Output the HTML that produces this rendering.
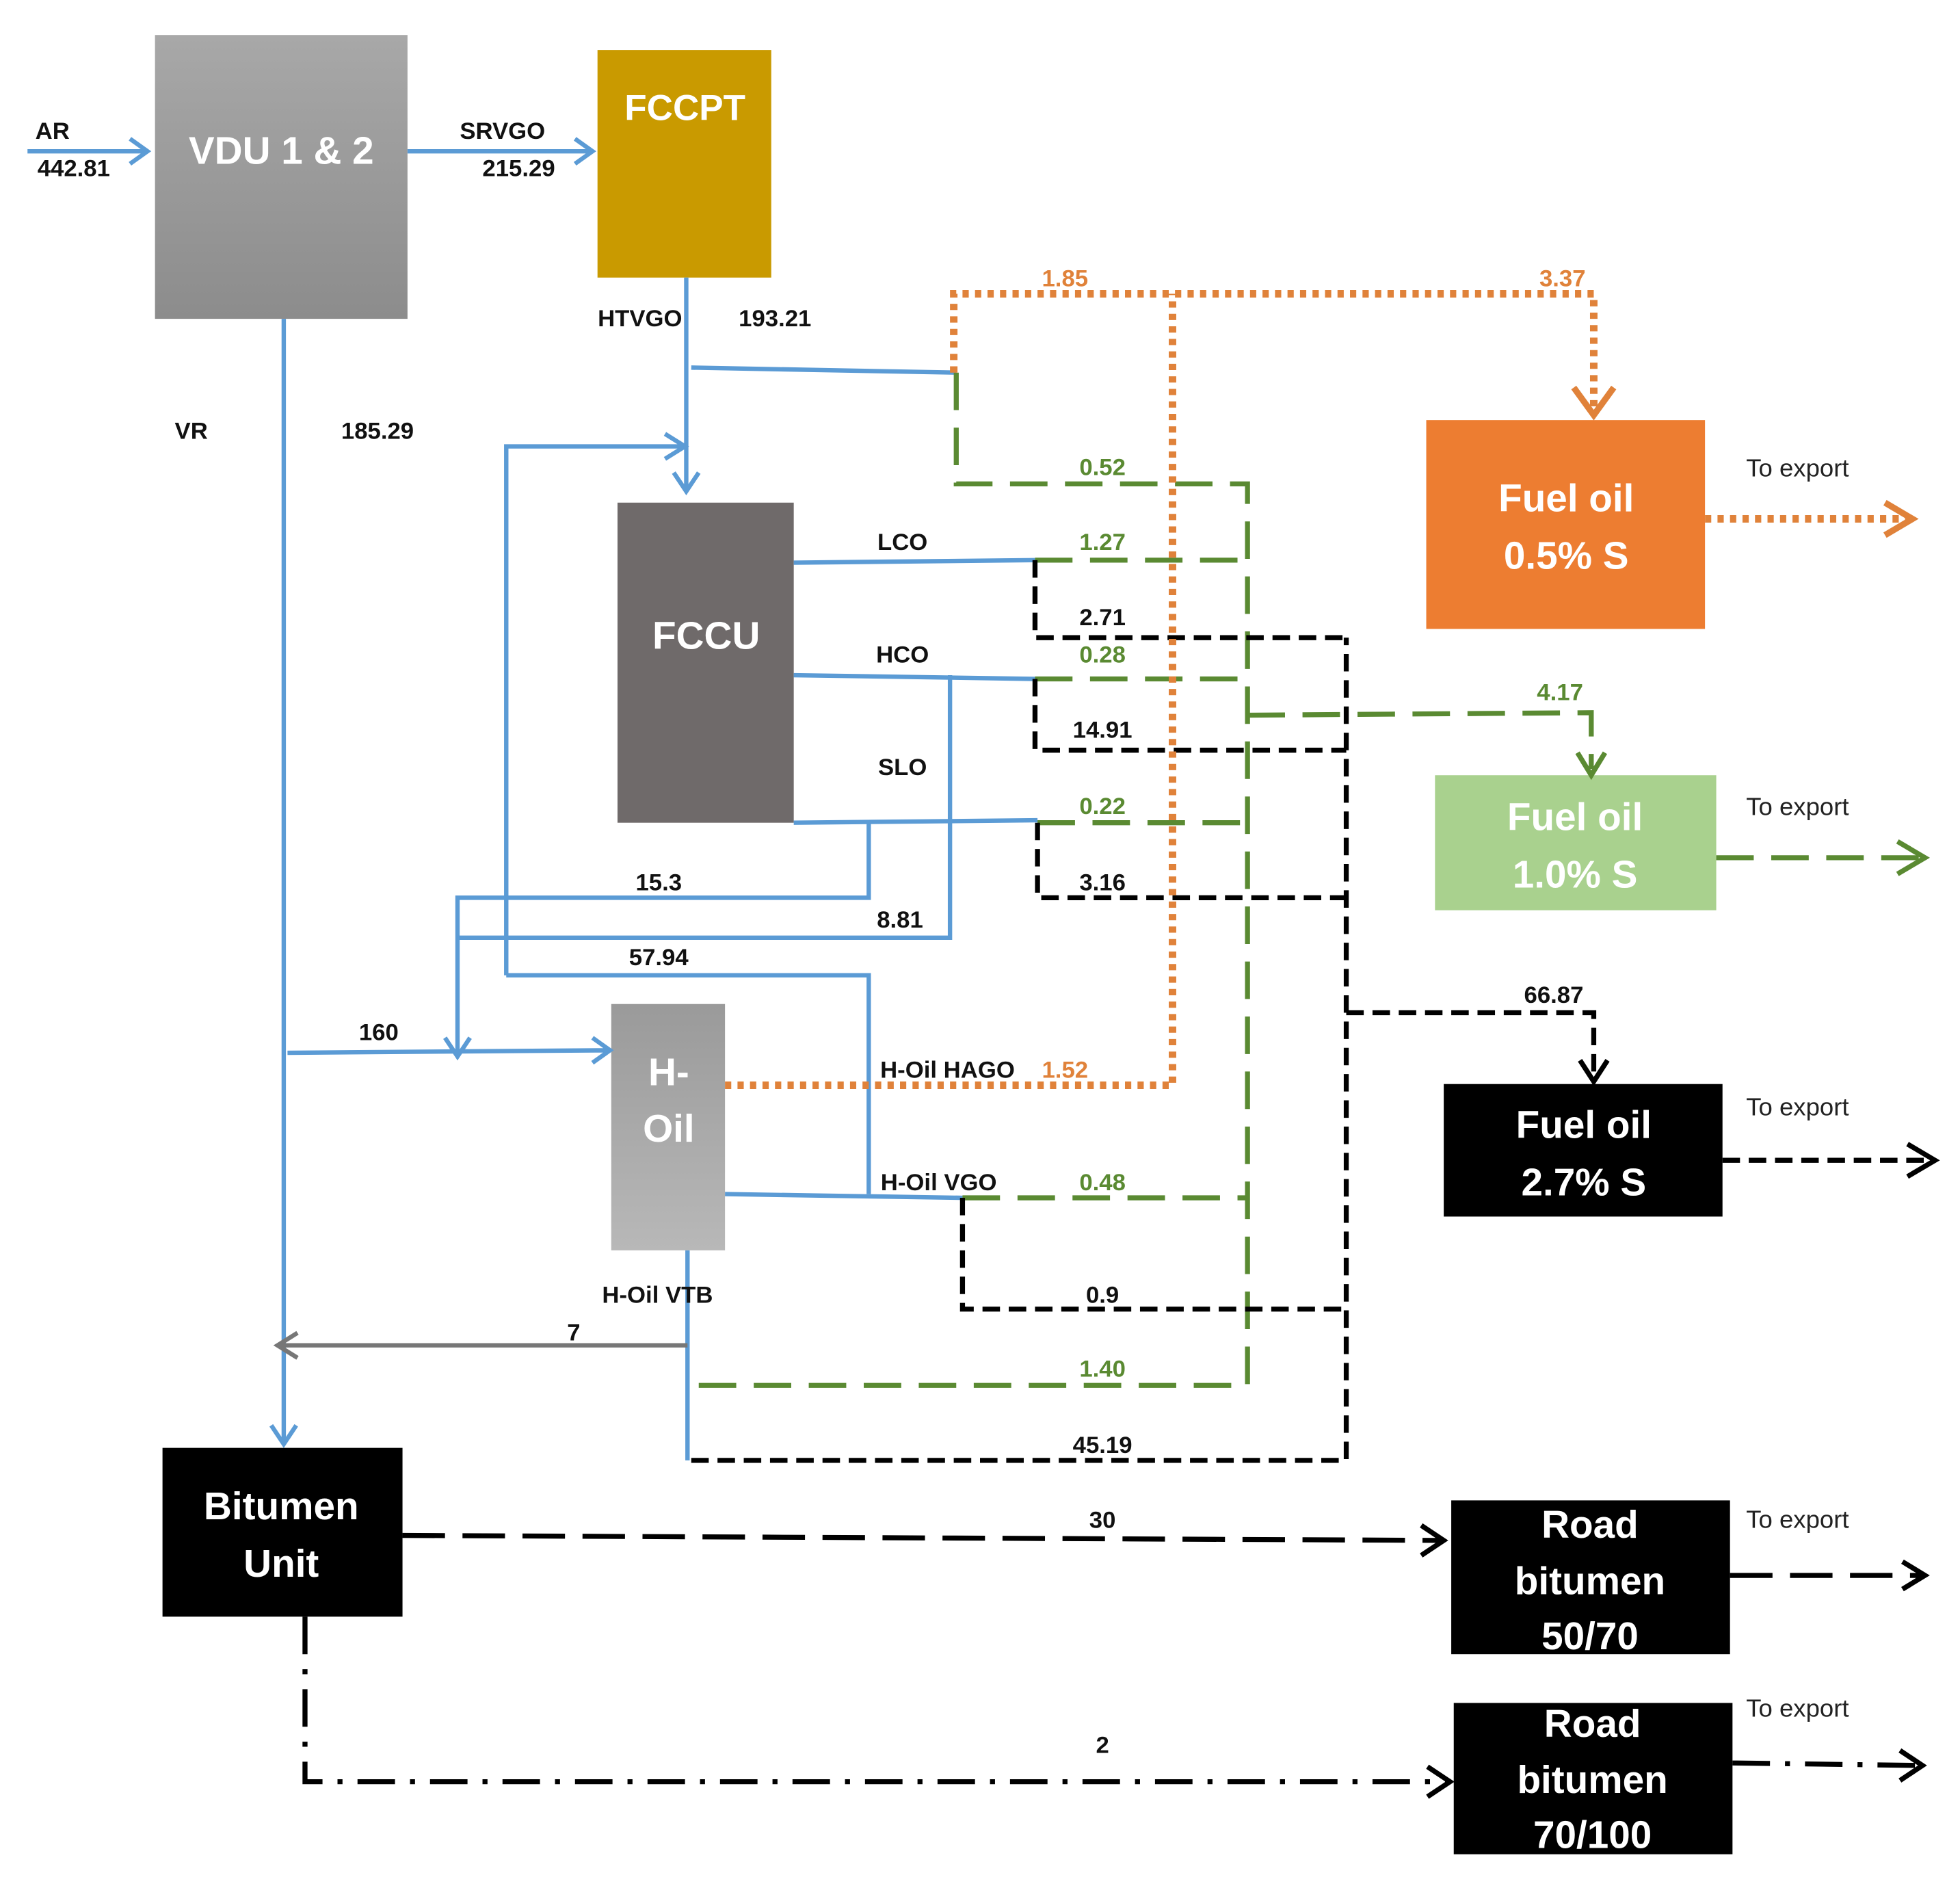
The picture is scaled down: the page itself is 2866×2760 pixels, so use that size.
<!DOCTYPE html>
<html><head><meta charset="utf-8"><style>
html,body{margin:0;padding:0;background:#fff;}
svg{display:block;}
text{font-family:"Liberation Sans",sans-serif;}
.l{font-size:19px;font-weight:bold;fill:#111;text-anchor:middle;}
.g{font-size:19px;font-weight:bold;fill:#5a8a32;text-anchor:middle;}
.o{font-size:19px;font-weight:bold;fill:#e0823a;text-anchor:middle;}
.e{font-size:20px;fill:#222;text-anchor:middle;}
.bw{font-size:31px;font-weight:bold;fill:#fff;text-anchor:middle;}
.b{fill:none;stroke:#5b9bd5;stroke-width:3.5;}
.gr{fill:none;stroke:#5a8a32;stroke-width:4;stroke-dasharray:30 14;}
.bk{fill:none;stroke:#000;stroke-width:4;stroke-dasharray:14 7;}
.or{fill:none;stroke:#e0823a;stroke-width:6;stroke-dasharray:5 5;}
</style></head><body>
<svg width="2866" height="2760" viewBox="0 0 1568 1510" preserveAspectRatio="none" xmlns="http://www.w3.org/2000/svg">
<defs>
<linearGradient id="gv" x1="0" y1="0" x2="0" y2="1"><stop offset="0" stop-color="#a8a8a8"/><stop offset="1" stop-color="#8c8c8c"/></linearGradient>
<linearGradient id="gh" x1="0" y1="0" x2="0" y2="1"><stop offset="0" stop-color="#9a9a9a"/><stop offset="1" stop-color="#b8b8b8"/></linearGradient>
</defs>
<!-- boxes -->
<rect x="124" y="28" width="202" height="227" fill="url(#gv)"/>
<text class="bw" x="225" y="131">VDU 1 &amp; 2</text>
<rect x="478" y="40" width="139" height="182" fill="#c99a00"/>
<text class="bw" x="548" y="96" style="font-size:29px">FCCPT</text>
<rect x="494" y="402" width="141" height="256" fill="#6f6a6a"/>
<text class="bw" x="565" y="519">FCCU</text>
<rect x="489" y="803" width="91" height="197" fill="url(#gh)"/>
<text class="bw" x="535" y="868">H-</text>
<text class="bw" x="535" y="913">Oil</text>
<rect x="130" y="1158" width="192" height="135" fill="#000"/>
<text class="bw" x="225" y="1215">Bitumen</text>
<text class="bw" x="225" y="1261">Unit</text>
<rect x="1141" y="336" width="223" height="167" fill="#ed7d31"/>
<text class="bw" x="1253" y="409">Fuel oil</text>
<text class="bw" x="1253" y="455">0.5% S</text>
<rect x="1148" y="620" width="225" height="108" fill="#a9d18e"/>
<text class="bw" x="1260" y="664">Fuel oil</text>
<text class="bw" x="1260" y="710">1.0% S</text>
<rect x="1155" y="867" width="223" height="106" fill="#000"/>
<text class="bw" x="1267" y="910">Fuel oil</text>
<text class="bw" x="1267" y="956">2.7% S</text>
<rect x="1161" y="1200" width="223" height="123" fill="#000"/>
<text class="bw" x="1272" y="1230">Road</text>
<text class="bw" x="1272" y="1275">bitumen</text>
<text class="bw" x="1272" y="1319">50/70</text>
<rect x="1163" y="1362" width="223" height="121" fill="#000"/>
<text class="bw" x="1274" y="1389">Road</text>
<text class="bw" x="1274" y="1434">bitumen</text>
<text class="bw" x="1274" y="1478">70/100</text>

<!-- blue lines -->
<path class="b" d="M22 121H116M104 111L118 121L104 131"/>
<path class="b" d="M326 121H472M460 111L474 121L460 131"/>
<path class="b" d="M549 222V392M539 378L549 393L559 378"/>
<path class="b" d="M553 294L765 298"/>
<path class="b" d="M227 255V1153M217 1140L227 1155L237 1140"/>
<path class="b" d="M230 842L486 840M474 830L488 840L474 850"/>
<path class="b" d="M405 780V357H546M532 347L548 357L532 367"/>
<path class="b" d="M405 780H695V955"/>
<path class="b" d="M695 658V718H366V843M356 830L366 845L376 830"/>
<path class="b" d="M760 540V750H366"/>
<path class="b" d="M635 450L828 448M635 540L828 543M635 658L830 656M580 955L770 958"/>
<path class="b" d="M550 1000V1168"/>
<path fill="none" stroke="#777" stroke-width="3.5" d="M550 1076H224M238 1066L222 1076L238 1086"/>

<!-- green dashed -->
<path class="gr" d="M765 298V387H998V1108H553"/>
<path class="gr" d="M828 448H998M828 543H998M830 658H998M770 958H998"/>
<path class="gr" d="M998 572L1273 570V615"/>
<path fill="none" stroke="#5a8a32" stroke-width="4" d="M1262 602L1273 620L1284 602"/>
<path class="gr" d="M1373 686H1538"/>
<path fill="none" stroke="#5a8a32" stroke-width="4" d="M1518 673L1540 686L1518 699"/>

<!-- black dashed -->
<path class="bk" d="M828 448V510H1077M828 543V600H1077M830 658V718H1077M770 958V1047H1077M553 1168H1077V510"/>
<path class="bk" d="M1077 810H1275V860"/>
<path fill="none" stroke="#000" stroke-width="4" d="M1264 848L1275 865L1286 848"/>
<path class="bk" d="M1378 928H1546"/>
<path fill="none" stroke="#000" stroke-width="4" d="M1526 915L1548 928L1526 941"/>
<path fill="none" stroke="#000" stroke-width="4" stroke-dasharray="34 14" d="M322 1228L1153 1232"/>
<path fill="none" stroke="#000" stroke-width="4" d="M1137 1220L1155 1232L1137 1244"/>
<path fill="none" stroke="#000" stroke-width="4" stroke-dasharray="34 14" d="M1384 1260H1538"/>
<path fill="none" stroke="#000" stroke-width="4" d="M1522 1249L1540 1260L1522 1271"/>
<path fill="none" stroke="#000" stroke-width="4" stroke-dasharray="30 12 4 12" d="M244 1293V1425H1158"/>
<path fill="none" stroke="#000" stroke-width="4" d="M1142 1413L1160 1425L1142 1437"/>
<path fill="none" stroke="#000" stroke-width="4" stroke-dasharray="30 12 4 12" d="M1386 1410L1536 1412"/>
<path fill="none" stroke="#000" stroke-width="4" d="M1520 1400L1538 1412L1520 1424"/>

<!-- orange dotted -->
<path class="or" d="M580 868H938V235M763 298V235H1275V325"/>
<path fill="none" stroke="#e0823a" stroke-width="5" d="M1259 310L1275 332L1291 310"/>
<path class="or" d="M1364 415H1525"/>
<path fill="none" stroke="#e0823a" stroke-width="5" d="M1508 402L1530 415L1508 428"/>

<!-- labels -->
<text class="l" x="42" y="111">AR</text>
<text class="l" x="59" y="141">442.81</text>
<text class="l" x="402" y="111">SRVGO</text>
<text class="l" x="415" y="141">215.29</text>
<text class="l" x="512" y="261">HTVGO</text>
<text class="l" x="620" y="261">193.21</text>
<text class="l" x="153" y="351">VR</text>
<text class="l" x="302" y="351">185.29</text>
<text class="l" x="722" y="440">LCO</text>
<text class="l" x="722" y="530">HCO</text>
<text class="l" x="722" y="620">SLO</text>
<text class="l" x="527" y="712">15.3</text>
<text class="l" x="720" y="742">8.81</text>
<text class="l" x="527" y="772">57.94</text>
<text class="l" x="303" y="832">160</text>
<text class="l" x="758" y="862">H-Oil HAGO</text>
<text class="l" x="751" y="952">H-Oil VGO</text>
<text class="l" x="526" y="1042">H-Oil VTB</text>
<text class="l" x="459" y="1072">7</text>
<text class="o" x="852" y="229">1.85</text>
<text class="o" x="1250" y="229">3.37</text>
<text class="o" x="852" y="862">1.52</text>
<text class="g" x="882" y="380">0.52</text>
<text class="g" x="882" y="440">1.27</text>
<text class="g" x="882" y="530">0.28</text>
<text class="g" x="882" y="651">0.22</text>
<text class="g" x="882" y="952">0.48</text>
<text class="g" x="882" y="1101">1.40</text>
<text class="g" x="1248" y="560">4.17</text>
<text class="l" x="882" y="500">2.71</text>
<text class="l" x="882" y="590">14.91</text>
<text class="l" x="882" y="712">3.16</text>
<text class="l" x="882" y="1042">0.9</text>
<text class="l" x="882" y="1162">45.19</text>
<text class="l" x="1243" y="802">66.87</text>
<text class="l" x="882" y="1222">30</text>
<text class="l" x="882" y="1402">2</text>
<text class="e" x="1438" y="381">To export</text>
<text class="e" x="1438" y="652">To export</text>
<text class="e" x="1438" y="892">To export</text>
<text class="e" x="1438" y="1222">To export</text>
<text class="e" x="1438" y="1373">To export</text>
</svg>
</body></html>
